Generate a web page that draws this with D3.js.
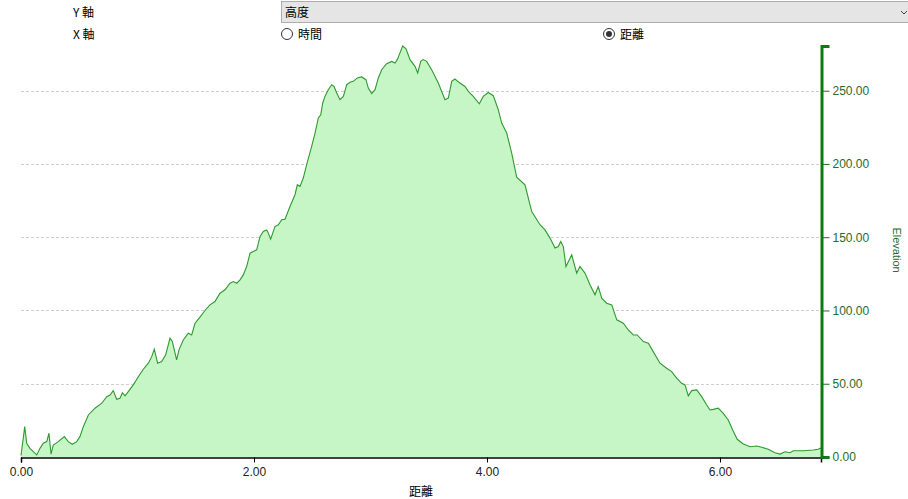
<!DOCTYPE html>
<html><head><meta charset="utf-8">
<script src="https://cdn.jsdelivr.net/npm/d3@7"></script>
<style>
html,body{margin:0;padding:0;background:#fff;}
svg{display:block;}
</style></head>
<body>
<svg id="chart" width="908" height="499"></svg>
<script>
const distance = [0,0.032,0.049,0.077,0.106,0.135,0.163,0.191,0.221,0.240,0.258,0.277,0.320,0.372,0.406,0.440,0.478,0.506,0.535,0.578,0.635,0.693,0.736,0.764,0.792,0.821,0.850,0.870,0.893,0.921,0.964,1.007,1.050,1.093,1.122,1.144,1.173,1.208,1.242,1.279,1.299,1.336,1.356,1.393,1.436,1.465,1.494,1.536,1.579,1.622,1.665,1.708,1.751,1.794,1.822,1.852,1.880,1.908,1.937,1.966,1.994,2.023,2.052,2.080,2.109,2.123,2.143,2.180,2.209,2.238,2.266,2.309,2.352,2.372,2.395,2.423,2.452,2.495,2.524,2.552,2.573,2.590,2.609,2.638,2.667,2.687,2.710,2.738,2.767,2.796,2.824,2.852,2.887,2.924,2.961,2.981,3.010,3.039,3.067,3.096,3.139,3.182,3.210,3.230,3.247,3.276,3.305,3.339,3.382,3.405,3.431,3.453,3.482,3.525,3.582,3.639,3.668,3.697,3.725,3.768,3.811,3.840,3.882,3.934,3.968,4.011,4.054,4.097,4.126,4.169,4.212,4.255,4.326,4.384,4.455,4.498,4.541,4.584,4.612,4.633,4.655,4.678,4.727,4.770,4.798,4.841,4.884,4.927,4.955,4.985,5.027,5.071,5.114,5.170,5.213,5.256,5.290,5.342,5.385,5.427,5.485,5.542,5.585,5.628,5.671,5.700,5.728,5.757,5.800,5.843,5.886,5.914,5.942,5.985,6.028,6.071,6.109,6.148,6.200,6.258,6.315,6.358,6.414,6.472,6.515,6.558,6.601,6.629,6.715,6.801,6.844,6.858,6.867];
const elevation = [1,20.7,9.4,5.9,3.6,1.4,5.9,9.4,10.5,16.2,2,8.2,10.5,13.9,10.5,8.7,10.5,13.9,20.7,28.7,33.3,36.7,41.2,42.3,45.3,39.4,40.1,43.9,41.7,44.6,49.2,54.8,59.9,64,68.5,73.6,64,65.1,69.7,81.1,78.8,66.3,73.1,79.9,84.5,83.3,91.3,95.5,100,103.8,106.1,111.8,114.1,118.6,119.7,118.6,120.9,124.3,130,139.1,140.2,141.4,150.5,153.9,155,152.8,148.7,157.3,158.5,161.9,162.3,171,179,185.8,184.6,190.4,199.5,212,221.1,231.4,233.6,241.6,246.1,250.7,254.1,252.9,248.4,243.9,246.1,254.1,255.7,256.4,258.7,259.4,257.5,251.8,248,250.7,258.7,264.3,268.4,270,268.9,271.2,274.6,280.5,278.5,271.2,266.6,262.1,270,271.2,270,264.3,255.2,243.9,245,256.4,258,255.2,252.9,249.5,246.1,241.1,246.1,248.8,246.6,237,227.9,221.1,207.4,191,185.8,167.6,158.5,155,149.4,142.6,143.6,147.1,143.6,130,138,125.5,130,125.5,117.5,110.7,116.3,108.4,105,103.8,93.6,91.3,86.7,83.3,83.3,78.8,77.7,71.9,64,60.6,58.3,53.8,50.3,49.2,41.7,45.3,45.8,41.2,35.5,32.1,32.5,33.3,29.8,25.3,18.4,12.1,8.9,7,7.5,6.6,5.3,2.9,2,3.6,2.9,4.3,4.3,4.8,5.3,5.9,5.9];
const xTicks = [0,2,4,6];
const yTicks = [0,50,100,150,200,250];
const yAxisLabel = "Elevation";
const xAxisLabel = "距離";
const yAxisOption = "高度";
const xAxisOptions = ["時間","距離"];
const selectedX = "距離";

const svg = d3.select("#chart");
const cjk = "'Noto Sans CJK TC','Noto Sans CJK JP',sans-serif";
const latin = "'Liberation Sans',Arial,sans-serif";

// controls
svg.append("text").attr("x",73).attr("y",17).attr("font-family",cjk).attr("font-size",12).attr("fill","#000").text("Y 軸");
svg.append("text").attr("x",73).attr("y",39).attr("font-family",cjk).attr("font-size",12).attr("fill","#000").text("X 軸");
svg.append("rect").attr("x",281.5).attr("y",1.5).attr("width",630).attr("height",21).attr("fill","#e5e5e5").attr("stroke","#adadad");
svg.append("text").attr("x",285).attr("y",17).attr("font-family",cjk).attr("font-size",12).attr("fill","#000").text(yAxisOption);
svg.append("path").attr("d","M901,11 L904,14 L907,11").attr("fill","none").attr("stroke","#444").attr("stroke-width",1);

const radioX = [287, 609];
xAxisOptions.forEach((o,i)=>{
  svg.append("circle").attr("cx",radioX[i]).attr("cy",34).attr("r",5.5).attr("fill","#fff").attr("stroke","#333").attr("stroke-width",1);
  if (o===selectedX) svg.append("circle").attr("cx",radioX[i]).attr("cy",34).attr("r",3).attr("fill","#333");
  svg.append("text").attr("x",radioX[i]+11).attr("y",39).attr("font-family",cjk).attr("font-size",12).attr("fill","#000").text(o);
});

// scales
const x = d3.scaleLinear().domain([0, d3.max(distance)]).range([21, 821]);
const y = d3.scaleLinear().domain([0, d3.max(elevation)]).range([457, 46]);

// grid
svg.append("g").selectAll("line").data(yTicks.filter(t=>t>0)).join("line")
  .attr("x1",21).attr("x2",821).attr("y1",d=>Math.round(y(d))+0.5).attr("y2",d=>Math.round(y(d))+0.5)
  .attr("stroke","#cfcfcf").attr("stroke-dasharray","3,2").attr("stroke-width",1);

const pts = distance.map((d,i)=>[d, elevation[i]]);
svg.append("path").datum(pts)
  .attr("d", d3.area().x(d=>x(d[0])).y0(y(0)).y1(d=>y(d[1])))
  .attr("fill","#c6f5c6");
svg.append("path").datum(pts)
  .attr("d", d3.line().x(d=>x(d[0])).y(d=>y(d[1])))
  .attr("fill","none").attr("stroke","#2f9a2f").attr("stroke-width",1.1);

// x axis
const xAxis = svg.append("g").attr("transform","translate(0,457.5)")
  .call(d3.axisBottom(x).tickValues(xTicks).tickFormat(d3.format(".2f")).tickSizeOuter(0).tickSize(5));
xAxis.select(".domain").attr("stroke","#000").attr("stroke-width",1.5);
xAxis.selectAll(".tick line").attr("stroke","#000");
xAxis.selectAll(".tick text").attr("font-family",latin).attr("font-size",12).attr("fill","#222").attr("dy","0.9em");
svg.append("text").attr("x",421).attr("y",496).attr("text-anchor","middle").attr("font-family",cjk).attr("font-size",12).attr("fill","#000").text(xAxisLabel);

// right y axis
const yAxis = svg.append("g").attr("transform","translate(821.5,0)")
  .call(d3.axisRight(y).tickValues(yTicks).tickFormat(d3.format(".2f")).tickSizeOuter(0).tickSize(8));
yAxis.select(".domain").attr("stroke","#0f7a0f").attr("stroke-width",3);
yAxis.selectAll(".tick line").attr("stroke","#0f7a0f").attr("stroke-width",1);
yAxis.selectAll(".tick text").attr("font-family",latin).attr("font-size",12).attr("fill","#2a6a2a").attr("x",11);
svg.append("text").attr("transform","translate(893,250) rotate(90)").attr("text-anchor","middle")
  .attr("font-family",latin).attr("font-size",11).attr("fill","#2a6a2a").text(yAxisLabel);
</script>
</body></html>
